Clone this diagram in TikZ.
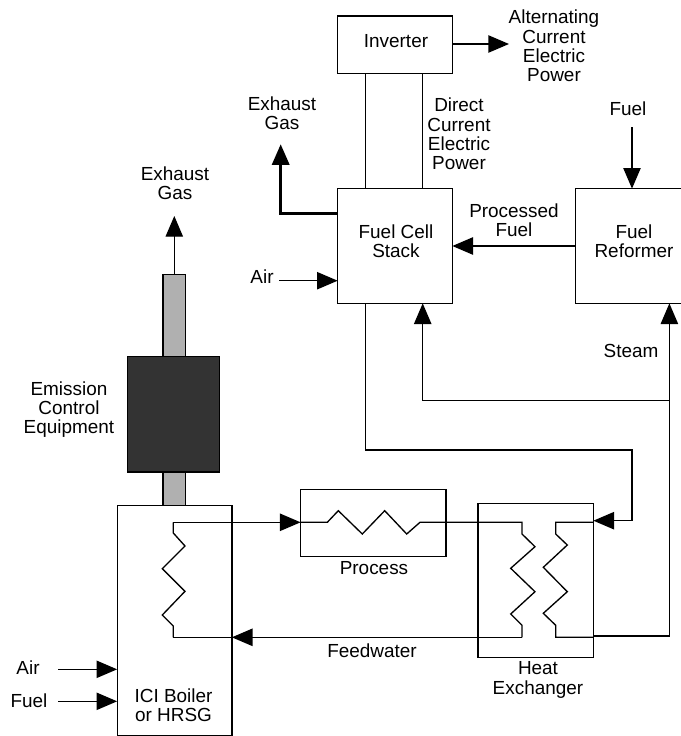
\documentclass[tikz,border=0pt]{standalone}
\usepackage{fontspec}
\setmainfont{Liberation Sans}
\usetikzlibrary{arrows.meta}
\definecolor{stackgray}{HTML}{B0B0B0}
\definecolor{emissiondark}{HTML}{333333}
\begin{document}
\begin{tikzpicture}[
    x=0.75pt, y=-0.75pt,
    every node/.style={font=\fontsize{14.2}{14.4}\selectfont, align=center, inner sep=0pt, outer sep=0pt},
    unit/.style={draw, line width=1pt, fill=white},
    flow/.style={-{Triangle[length=15.5pt, width=13pt]}, line width=1pt},
    pipe/.style={line width=1pt, line join=miter},
  ]
  \clip (0,0) rectangle (681,736);

  % stack and emission control
  \node[draw=black, line width=0.8pt, fill=stackgray, minimum width=17pt, minimum height=61.3pt] (upperstack) at (174.3,315.8) {};
  \node[draw=black, line width=0.8pt, fill=stackgray, minimum width=17pt, minimum height=25pt] (lowerstack) at (174.3,488.5) {};
  \node[draw=black, line width=0.8pt, fill=emissiondark, minimum width=69pt, minimum height=86.5pt] (emission) at (173.3,414.3) {};

  % main units
  \node[unit, minimum width=86pt, minimum height=43pt] (inverter) at (395,44.5) {};
  \node[unit, minimum width=86pt, minimum height=86pt] (fuelcell) at (395,246) {};
  \node[unit, minimum width=86pt, minimum height=86pt] (reformer) at (632.5,246) {};
  \node[unit, minimum width=86pt, minimum height=172.5pt] (boiler) at (174.5,620.5) {};
  \node[unit, minimum width=109pt, minimum height=50.5pt] (process) at (373.3,523) {};
  \node[unit, minimum width=86.5pt, minimum height=115.5pt] (heatex) at (535.7,580.3) {};

  % texts
  \node at (396,41) {Inverter};
  \node at (396,241) {Fuel Cell\\Stack};
  \node at (634,241) {Fuel\\Reformer};
  \node at (173.5,705) {ICI Boiler\\or HRSG};
  \node at (374,568) {Process};
  \node at (538,680) {Heat\\Exchanger};
  \node at (372,651) {Feedwater};
  \node at (554,46) {Alternating\\Current\\Electric\\Power};
  \node at (459,134) {Direct\\Current\\Electric\\Power};
  \node at (514,220) {Processed\\Fuel};
  \node at (631,351) {Steam};
  \node at (628,109) {Fuel};
  \node at (282,113) {Exhaust\\Gas};
  \node at (175,183) {Exhaust\\Gas};
  \node at (69,409.5) {Emission\\Control\\Equipment};
  \node at (262,277) {Air};
  \node at (28,668) {Air};
  \node at (29,701) {Fuel};

  % free ends
  \coordinate (acout) at (509,44);
  \coordinate (fueltop) at (632,127);
  \coordinate (fcexhaust) at (280.7,144.3);
  \coordinate (stackexit) at (174.3,216);
  \coordinate (fcair) at (279,280.7);
  \coordinate (boilerair) at (58,669.3);
  \coordinate (boilerfuel) at (58,701.3);
  \coordinate (steamtee) at (669.4,400.7);
  \coordinate (dcleft) at (365.3,0);
  \coordinate (dcright) at (422.7,0);
  \coordinate (coilout) at (173.3,522.3);
  \coordinate (coilin) at (173.3,637.3);
  \coordinate (hxleft) at (522,637.3);

  % connectors
  \draw[flow] (inverter.east |- acout) -- (acout);
  \draw[pipe] (inverter.south -| dcleft) -- (fuelcell.north -| dcleft);
  \draw[pipe] (inverter.south -| dcright) -- (fuelcell.north -| dcright);
  \draw[flow] (fueltop) -- (fueltop |- reformer.north);
  \draw[flow] (reformer.west) -- (fuelcell.east);
  \draw[flow, line width=2pt] (fuelcell.west |- 0,213.3) -| (fcexhaust);
  \draw[flow] (fcair) -- (fuelcell.west |- fcair);
  \draw[flow] (upperstack.north) -- (stackexit);
  \draw[flow] (boilerair) -- (boiler.west |- boilerair);
  \draw[flow] (boilerfuel) -- (boiler.west |- boilerfuel);
  \draw[flow] (fuelcell.south -| dcleft) |- (632,450) |- (heatex.east |- 0,520.7);
  \draw[flow] (heatex.east |- 0,636) -| (steamtee) -- (steamtee |- reformer.south);
  \draw[flow] (steamtee) -| (fuelcell.south -| dcright);

  % coils
  \draw[flow] (coilout) -- (process.west |- coilout);
  \draw[pipe] (coilout) -- (173.3,533) -- (185,546) -- (162.3,568.7) -- (185,591.3) -- (162.3,615) -- (173.3,626) -- (coilin);
  \draw[pipe] (coilin) -- (hxleft);
  \draw[flow] (hxleft) -- (boiler.east |- hxleft);
  \draw[pipe] (process.west |- coilout) -- (327.3,522.3) -- (338.3,510.7) -- (362.3,534) -- (384.7,510.7) -- (406.7,534) -- (420,522.3)
    -- (522,522.3) -- (522,534) -- (535,546.7) -- (510.7,568.3) -- (535,591.7) -- (510.7,614) -- (522,625.3) -- (hxleft);
  \draw[pipe] (heatex.east |- coilout) -- (555.7,522.3) -- (555.7,534) -- (567.3,545) -- (543.3,567.3) -- (567.3,591.7) -- (543.3,613.3) -- (555.7,625.3) -- (555.7,637.3) -- (heatex.east |- coilin);
\end{tikzpicture}
\end{document}
